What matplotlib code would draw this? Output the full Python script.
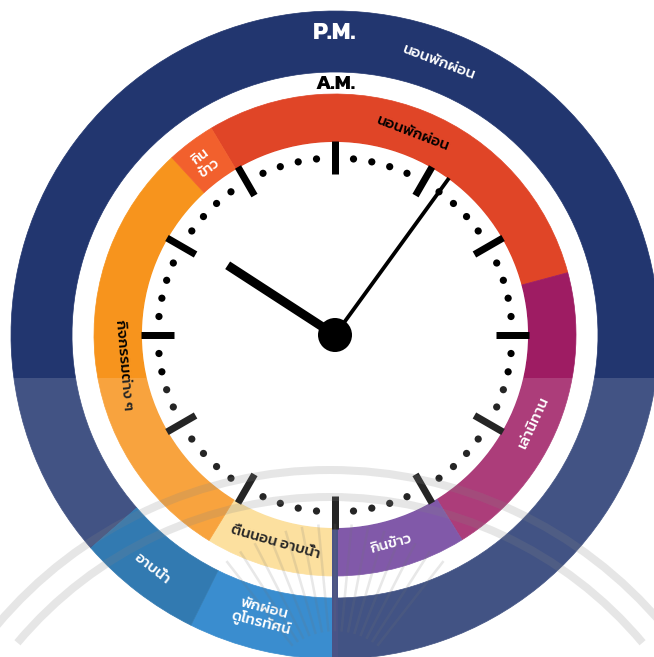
import numpy as np
import matplotlib
matplotlib.use("Agg")
import matplotlib.pyplot as plt
from matplotlib.patches import Wedge, Circle, Rectangle, Arc

plt.rcParams['font.family'] = ['Kanit', 'Prompt', 'Bai Jamjuree', 'DejaVu Sans']

# ---------------- data ----------------
# inner ring (A.M.) activities: start / end in clock hours (clockwise)
am_labels = ["นอนพักผ่อน", "เล่านิทาน", "กินข้าว", "ตื่นนอน อาบน้ำ", "กิจกรรมต่าง ๆ", "กิน\nข้าว"]
am_start = [10.97, 2.50, 4.94, 6.00, 7.05, 10.58]
am_end = [14.50, 4.94, 6.00, 7.05, 10.58, 10.97]
am_colors = ["#e04527", "#9e1c63", "#6b3d9b", "#fcdb8f", "#f7941d", "#f2602d"]
am_text_colors = ["black", "white", "white", "black", "black", "white"]

# outer ring (P.M.) activities
pm_labels = ["นอนพักผ่อน", "พักผ่อน\nดูโทรทัศน์", "อาบน้ำ"]
pm_start = [7.63, 6.00, 6.88]
pm_end = [18.00, 6.88, 7.63]
pm_colors = ["#22366f", "#187ac7", "#0f63a4"]
pm_text_colors = ["white", "white", "white"]

ring_titles = ["P.M.", "A.M."]
clock_hour = 10.1
clock_minute = 6.0

# ---------------- layout ----------------
W, H = 654, 657
cx, cy = 335, H - 335
R_FACE = 193
R_AM = (193, 241)
R_PM = (263, 324)


def px(v):
    return v * 0.72


def pos(theta_deg, r):
    t = np.radians(theta_deg)
    return cx + r * np.sin(t), cy + r * np.cos(t)


fig = plt.figure(figsize=(W / 100, H / 100), dpi=100)
ax = fig.add_axes([0, 0, 1, 1])
ax.set_xlim(0, W)
ax.set_ylim(0, H)
ax.set_aspect('auto')
ax.axis('off')


def ring(starts, ends, colors, r_in, r_out):
    for s, e, c in zip(starts, ends, colors):
        t1 = 90 - e * 30
        t2 = 90 - s * 30
        ax.add_patch(Wedge((cx, cy), r_out, t1, t2, width=r_out - r_in,
                           facecolor=c, edgecolor=c, lw=0.5, zorder=2))


ring(pm_start, pm_end, pm_colors, *R_PM)
ring(am_start, am_end, am_colors, *R_AM)

# clock face
ax.add_patch(Circle((cx, cy), R_FACE, facecolor="white", edgecolor="none", zorder=3))

# divider at 6 o'clock through the rings
x0, y0 = pos(180, 192)
x1, y1 = pos(180, 330)
ax.plot([x0, x1], [y0, y1], color="#2b3672", lw=px(6), solid_capstyle="butt", zorder=4)

# hour ticks
for h in range(12):
    th = h * 30
    a = pos(th, 161)
    b = pos(th, 194)
    ax.plot([a[0], b[0]], [a[1], b[1]], color="black", lw=px(7),
            solid_capstyle="butt", zorder=5)

# minute dots
for m in range(60):
    if m % 5 == 0:
        continue
    x, y = pos(m * 6, 177)
    ax.add_patch(Circle((x, y), 3.6, facecolor="black", edgecolor="none", zorder=5))

# hands
hth = clock_hour * 30
a = pos(hth, 128)
ax.plot([cx, a[0]], [cy, a[1]], color="black", lw=px(9), solid_capstyle="butt", zorder=6)
mth = clock_minute * 6
a = pos(mth, 194)
ax.plot([cx, a[0]], [cy, a[1]], color="black", lw=px(3.8), solid_capstyle="butt", zorder=6)
ax.add_patch(Circle((cx, cy), 17, facecolor="black", edgecolor="none", zorder=7))

# titles
ax.text(cx, H - 33, ring_titles[0], color="white", fontsize=17.5, fontweight="bold",
        ha="center", va="center", zorder=8)
ax.text(cx, H - 84, ring_titles[1], color="black", fontsize=15, fontweight="bold",
        ha="center", va="center", zorder=8)

# labels (angle, radius, rotation)
am_lab_pos = [(21, 216, -21), (114, 218, 65), (165, 217, 15),
              (196, 216, -16), (262, 214, -85), (323, 216, 37)]
am_sizes = [11, 11, 11, 11, 11, 10.5]
for lab, col, fs, (th, r, rot) in zip(am_labels, am_text_colors, am_sizes, am_lab_pos):
    x, y = pos(th, r)
    ax.text(x, y, lab, color=col, fontsize=fs, fontweight="medium",
            ha="center", va="center", rotation=rot, rotation_mode="anchor",
            linespacing=1.1, zorder=8)

pm_lab_pos = [(20.8, 292, -20.8), (194.5, 291, -14.5), (218, 297, -38)]
for lab, col, (th, r, rot) in zip(pm_labels, pm_text_colors, pm_lab_pos):
    x, y = pos(th, r)
    ax.text(x, y, lab, color=col, fontsize=11, fontweight="medium",
            ha="center", va="center", rotation=rot, rotation_mode="anchor",
            linespacing=1.0, zorder=8)

# faint watermark (arcs and rays) in the lower part
wm_c = (330, H - 905)
for rr in (435, 408):
    ax.add_patch(Arc(wm_c, 2 * rr, 2 * rr, theta1=40, theta2=140,
                     color="#6f6f6f", alpha=0.2, lw=px(8), zorder=9))
ray_o = (335, H - 700)
for ang in np.linspace(52, 128, 15):
    t = np.radians(ang)
    ax.plot([ray_o[0] + 70 * np.cos(t), ray_o[0] + 175 * np.cos(t)],
            [ray_o[1] + 70 * np.sin(t), ray_o[1] + 175 * np.sin(t)],
            color="#5a5a5a", alpha=0.16, lw=px(2.5), zorder=9)

# white translucent overlay on lower part
ax.add_patch(Rectangle((0, 0), W, H - 378, facecolor="white", alpha=0.15,
                       edgecolor="none", zorder=10))

fig.savefig("out.png", dpi=100)
